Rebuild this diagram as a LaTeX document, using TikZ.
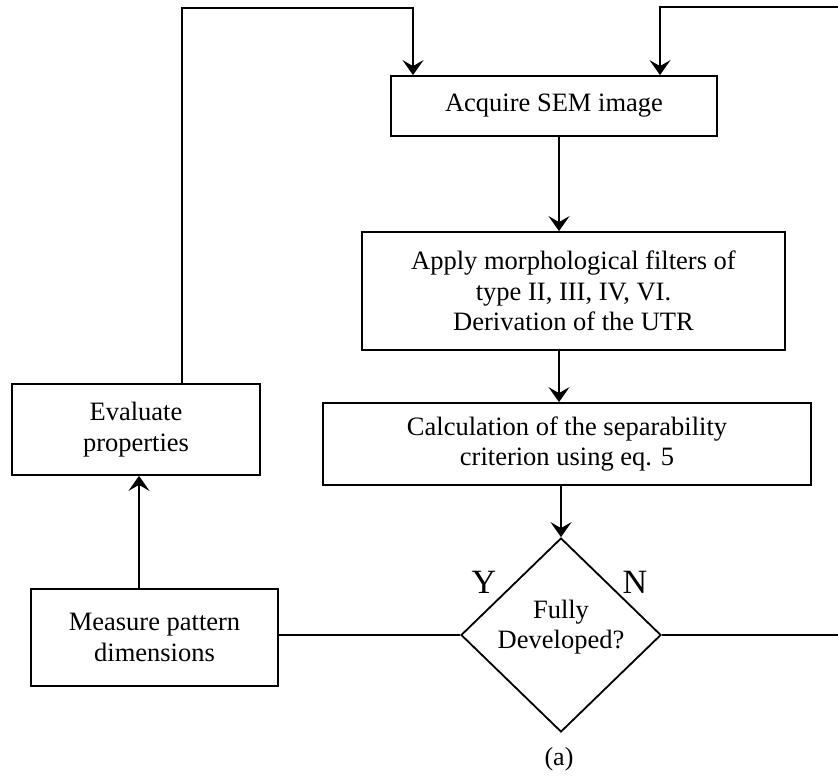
\documentclass[tikz,border=0pt]{standalone}
\usepackage{fontspec}
\setmainfont{Liberation Serif}
\usepackage{tikz}
\usetikzlibrary{arrows.meta}
\usetikzlibrary{shapes.geometric}
\usetikzlibrary{positioning}

\begin{document}
\begin{tikzpicture}[x=1pt,y=-1pt,->,>={Stealth[length=15pt,width=21pt,inset=6pt]},line width=1.8pt,
    box node/.style={rectangle,draw,align=center,inner sep=0pt,font=\fontsize{26.5}{30.5}\selectfont},
    test node/.style={diamond,draw,inner sep=0pt,minimum width=200pt,minimum height=194pt},
    yn label/.style={font=\fontsize{34}{36}\selectfont}]
   \useasboundingbox (0,0) rectangle (838,776);
   \clip (0,0) rectangle (838,776);
   \coordinate (col) at (559,0);
   \coordinate (ltop) at (182,8);
   \coordinate (rtop) at (841,7);
   \node[box node,minimum width=326pt,minimum height=60pt] (acq) at (554,106) {Acquire SEM image};
   \node[box node,minimum width=423pt,minimum height=118pt] (morph) at (573.5,291) {Apply morphological filters of\\type II, III, IV, VI.\\Derivation of the UTR};
   \node[box node,minimum width=488pt,minimum height=82pt] (calc) at (567,444) {Calculation of the separability\\criterion using eq. 5};
   \node[test node] (dev) at (561,635) {};
   \node[align=center,font=\fontsize{26.5}{30.5}\selectfont] (devtext) at ([yshift=8pt]dev.center) {Fully\\Developed?};
   \node[box node,minimum width=247pt,minimum height=97pt] (meas) at (154.5,637.5) {Measure pattern\\dimensions};
   \node[box node,minimum width=248pt,minimum height=91pt] (eval) at (136,429.5) {Evaluate\\properties};
   \node[yn label] (yes) at (484,582) {Y};
   \node[yn label] (no) at (635,582) {N};
   \node[font=\fontsize{26}{30}\selectfont] (cap) at (559,759) {(a)};
   % main column
   \draw (acq.south -| col) -- (morph.north -| col);
   \draw (morph.south -| col) -- (calc.north -| col);
   \draw (calc.south -| dev.north) -- (dev.north);
   % yes branch
   \draw[-] (dev.west) -- (dev.west -| meas.east);
   \draw ([xshift=-15.5pt]meas.north) -- ([xshift=-15.5pt]meas.north |- eval.south);
   \draw (eval.north -| ltop) -- (ltop) -| ([xshift=-141pt]acq.north);
   % no branch
   \draw (dev.east) -| (rtop) -| ([xshift=106pt]acq.north);
\end{tikzpicture}
\end{document}
